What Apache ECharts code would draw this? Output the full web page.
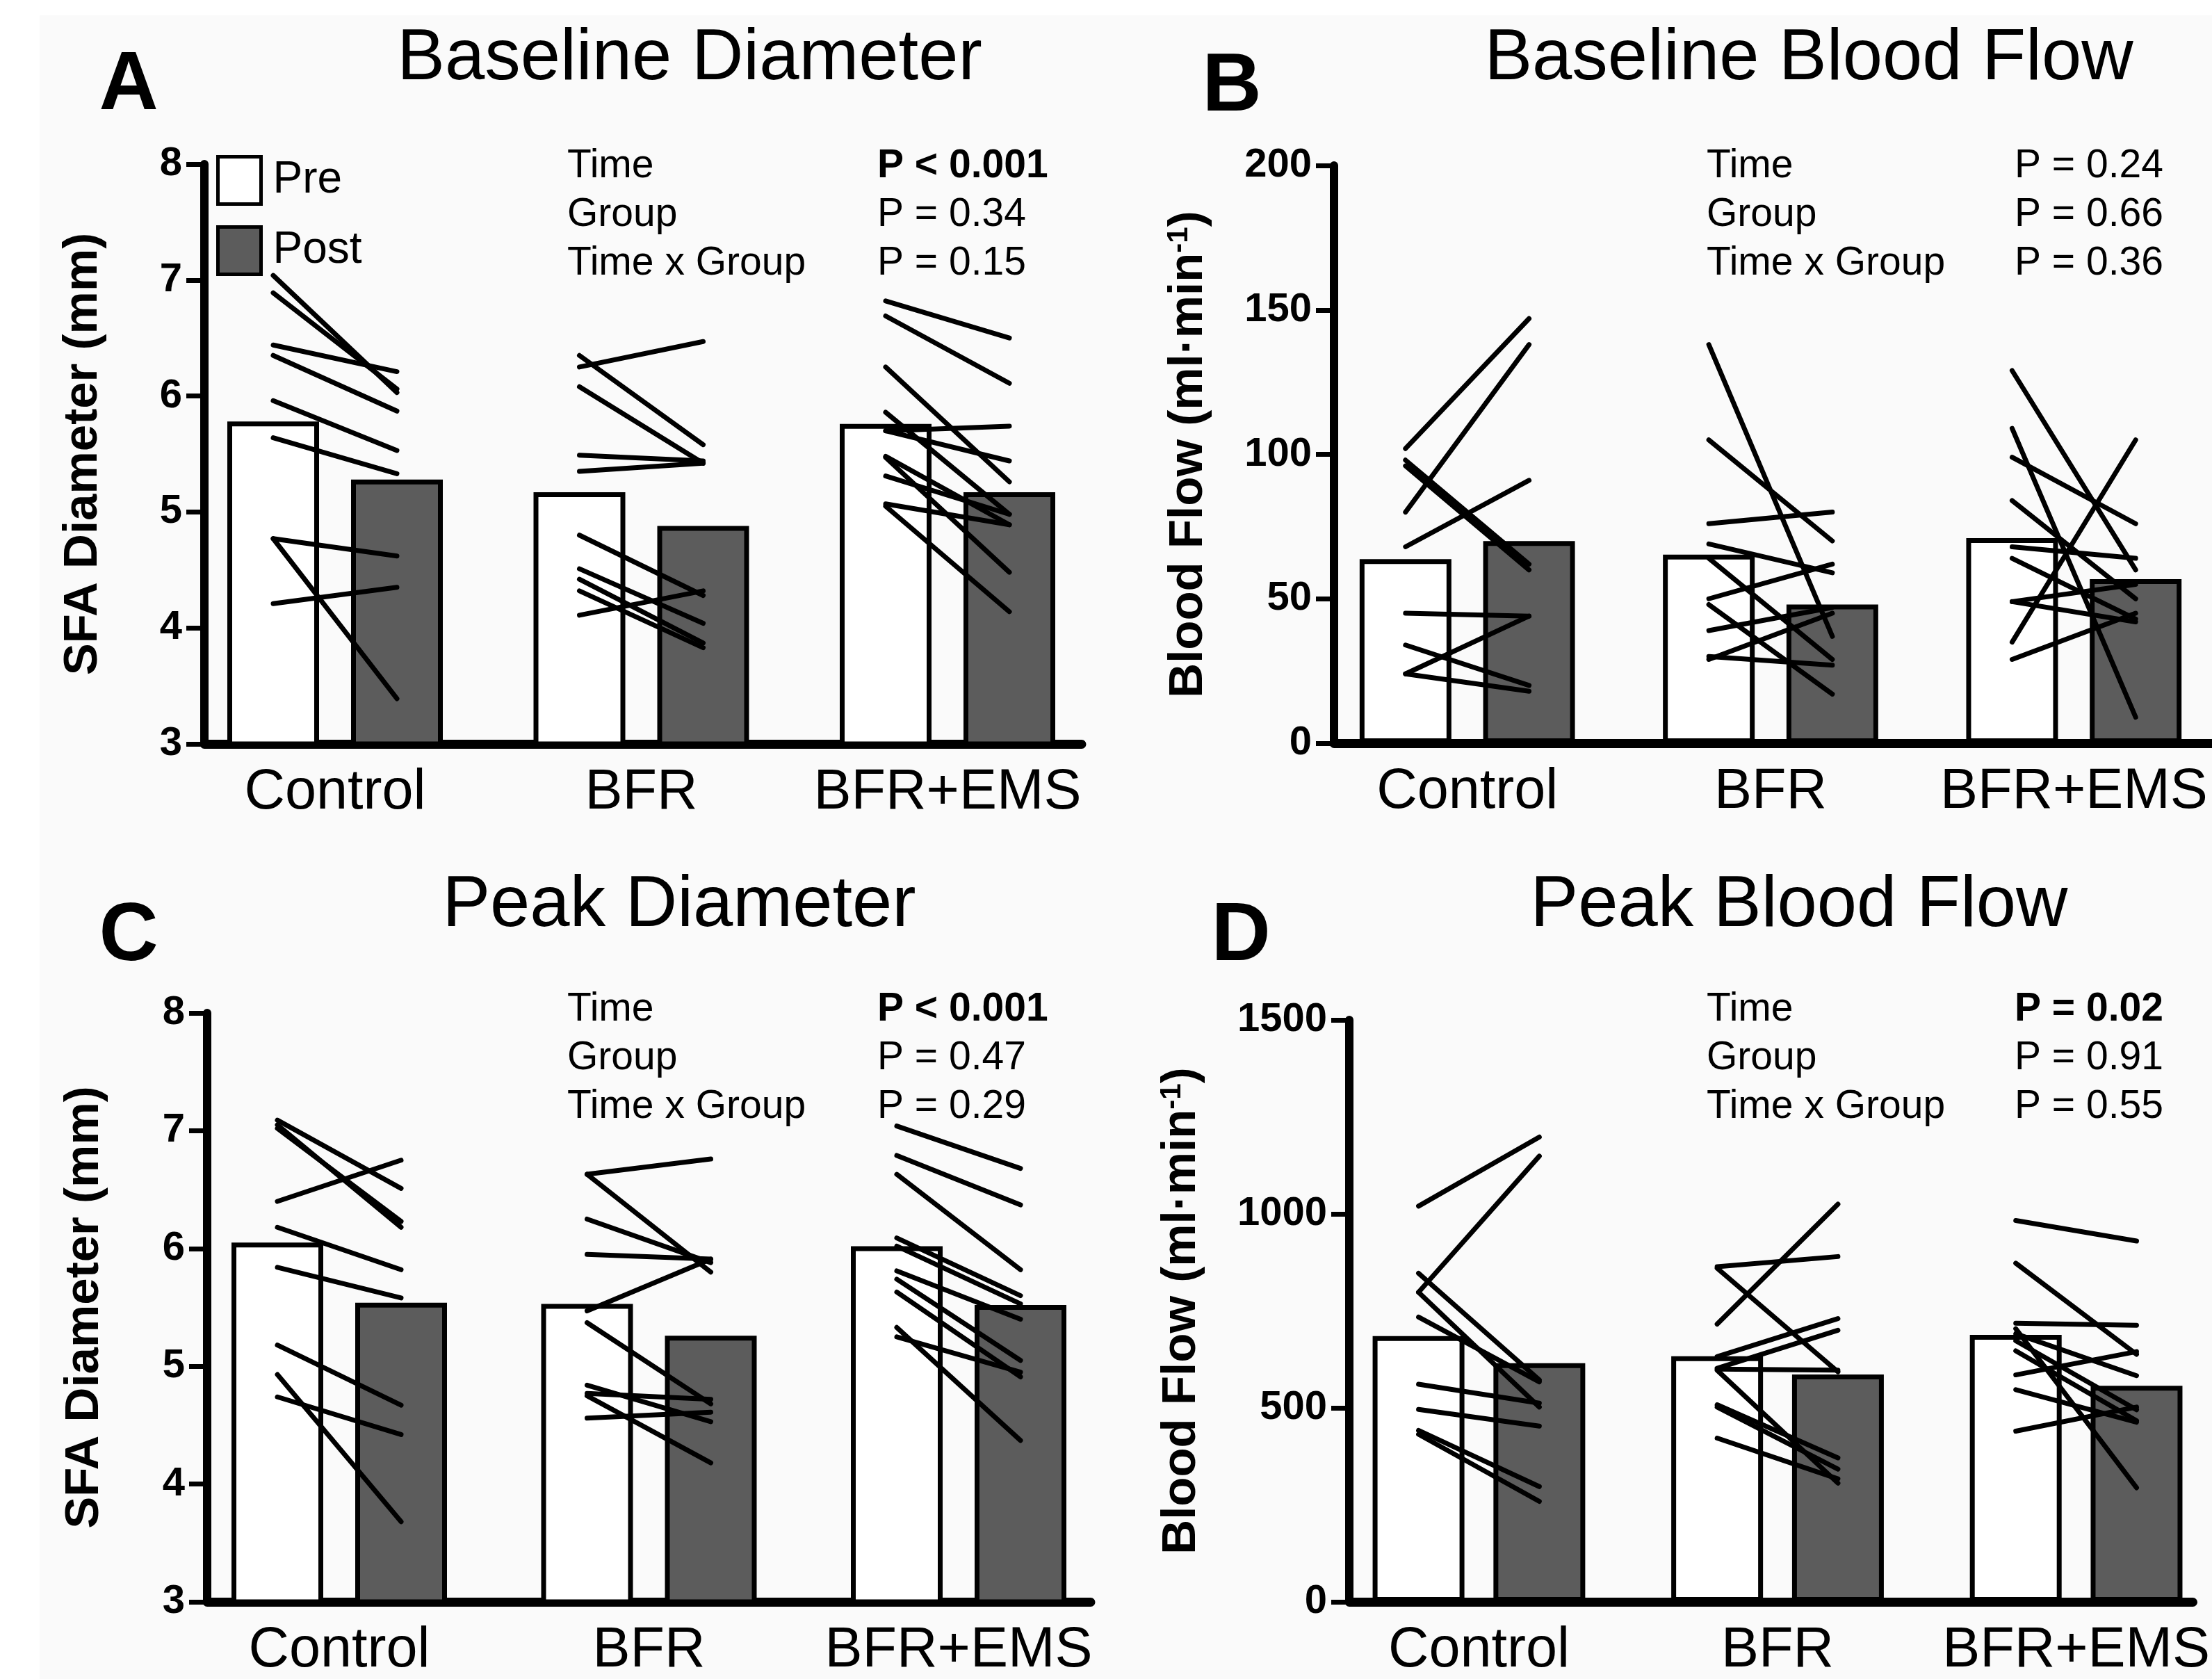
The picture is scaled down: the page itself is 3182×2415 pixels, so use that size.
<!DOCTYPE html>
<html><head><meta charset="utf-8">
<script src="https://cdn.jsdelivr.net/npm/echarts@6/dist/echarts.min.js"></script>
<style>html,body{margin:0;padding:0;background:#fff}#c{width:3182px;height:2415px}</style>
</head><body><div id="c"></div>
<script>
// ---------- DATA ----------
const categories = ['Control', 'BFR', 'BFR+EMS'];
const seriesNames = ['Pre', 'Post'];
const panelTitles = ['Baseline Diameter', 'Baseline Blood Flow', 'Peak Diameter', 'Peak Blood Flow'];
const panelLetters = ['A', 'B', 'C', 'D'];
const statLabels = ['Time', 'Group', 'Time x Group'];

const yTicksDiameter = [3, 4, 5, 6, 7, 8];
const yTicksBaseFlow = [0, 50, 100, 150, 200];
const yTicksPeakFlow = [0, 500, 1000, 1500];

// A: Baseline diameter (mm)
const aMeanPre = [5.78, 5.17, 5.76];
const aMeanPost = [5.28, 4.88, 5.17];
const aCtrlPre = [7.04, 6.89, 6.44, 6.35, 5.96, 5.64, 4.77, 4.77, 4.21];
const aCtrlPost = [6.03, 6.06, 6.21, 5.87, 5.53, 5.33, 4.62, 3.39, 4.35];
const aBfrPre = [6.35, 6.25, 6.08, 5.49, 5.35, 4.80, 4.51, 4.42, 4.32, 4.11];
const aBfrPost = [5.58, 6.47, 5.42, 5.44, 5.42, 4.28, 4.04, 3.87, 3.83, 4.32];
const aEmsPre = [6.82, 6.69, 6.25, 5.86, 5.70, 5.70, 5.48, 5.47, 5.31, 5.07, 5.05];
const aEmsPost = [6.50, 6.11, 5.26, 4.98, 5.74, 5.44, 4.89, 4.48, 4.98, 4.89, 4.14];
const aStats = ['P < 0.001', 'P = 0.34', 'P = 0.15'];
const aStatsBold = [true, false, false];

// B: Baseline blood flow (ml/min)
const bMeanPre = [63.7, 65.3, 71];
const bMeanPost = [70, 48, 56.8];
const bCtrlPre = [102, 80, 98, 96, 68, 45, 34, 24, 24];
const bCtrlPost = [147, 138, 62, 60, 91, 44, 20, 44, 18];
const bBfrPre = [138, 105, 76, 69, 64, 50, 48, 39, 30, 29];
const bBfrPost = [37, 70, 80, 59, 29, 62, 17, 47, 27, 45];
const bEmsPre = [129, 109, 99, 35, 84, 68, 64, 49, 49, 29];
const bEmsPost = [60, 9, 76, 105, 50, 64, 43, 55, 42, 45];
const bStats = ['P = 0.24', 'P = 0.66', 'P = 0.36'];
const bStatsBold = [false, false, false];

// C: Peak diameter (mm)
const cMeanPre = [6.05, 5.53, 6.02];
const cMeanPost = [5.54, 5.26, 5.52];
const cCtrlPre = [7.09, 7.05, 7.02, 6.40, 6.18, 5.84, 5.18, 4.93, 4.74];
const cCtrlPost = [6.51, 6.18, 6.23, 6.75, 5.82, 5.58, 4.67, 3.68, 4.42];
const cBfrPre = [6.63, 6.63, 6.25, 5.95, 5.47, 5.37, 4.84, 4.77, 4.75, 4.56];
const cBfrPost = [6.76, 5.80, 5.88, 5.91, 5.91, 4.68, 4.53, 4.72, 4.18, 4.61];
const cEmsPre = [7.04, 6.79, 6.63, 6.09, 6.02, 5.81, 5.74, 5.63, 5.33, 5.25];
const cEmsPost = [6.68, 6.37, 5.82, 5.60, 5.53, 5.40, 5.05, 4.91, 4.37, 4.95];
const cStats = ['P < 0.001', 'P = 0.47', 'P = 0.29'];
const cStatsBold = [true, false, false];

// D: Peak blood flow (ml/min)
const dMeanPre = [685, 633, 688];
const dMeanPost = [615, 586, 557];
const dCtrlPre = [1020, 798, 847, 798, 734, 561, 496, 442, 432];
const dCtrlPost = [1198, 1149, 572, 502, 567, 512, 453, 297, 259];
const dBfrPre = [716, 864, 860, 632, 602, 600, 508, 502, 597, 422];
const dBfrPost = [1025, 890, 593, 730, 700, 597, 371, 342, 306, 317];
const dEmsPre = [983, 873, 718, 704, 691, 673, 647, 585, 547, 440];
const dEmsPost = [930, 638, 713, 294, 583, 495, 467, 645, 463, 502];
const dStats = ['P = 0.02', 'P = 0.91', 'P = 0.55'];
const dStatsBold = [true, false, false];

// ---------- LAYOUT ----------
const FONT = '"Liberation Sans", Arial, Helvetica, sans-serif';
const BAR_W = 132, HALF_GAP_PX = 89;
const panels = [
  {grid:{left:294, top:236, width:1262, height:834}, c0:482, sp:440.5, ticks:yTicksDiameter,
   mean:[aMeanPre,aMeanPost], subj:[[aCtrlPre,aCtrlPost],[aBfrPre,aBfrPost],[aEmsPre,aEmsPost]],
   stats:aStats, bold:aStatsBold, yName:'SFA Diameter (mm)', nameX:120,
   titleX:992, titleY:85, letterX:185, letterY:124, statX:[816,1262], statY:239},
  {grid:{left:1919, top:238, width:1265, height:831}, c0:2111, sp:437, ticks:yTicksBaseFlow,
   mean:[bMeanPre,bMeanPost], subj:[[bCtrlPre,bCtrlPost],[bBfrPre,bBfrPost],[bEmsPre,bEmsPost]],
   stats:bStats, bold:bStatsBold, yName:'{b|Blood Flow (ml\u00B7min}{s|-1}{b|)}', nameX:1710,
   titleX:2602, titleY:85, letterX:1772, letterY:126, statX:[2455,2898], statY:239},
  {grid:{left:298, top:1457, width:1271, height:853}, c0:488, sp:445.5, ticks:yTicksDiameter,
   mean:[cMeanPre,cMeanPost], subj:[[cCtrlPre,cCtrlPost],[cBfrPre,cBfrPost],[cEmsPre,cEmsPost]],
   stats:cStats, bold:cStatsBold, yName:'SFA Diameter (mm)', nameX:122,
   titleX:977, titleY:1303, letterX:185, letterY:1348, statX:[816,1262], statY:1452},
  {grid:{left:1941, top:1467, width:1243, height:838}, c0:2132, sp:440, ticks:yTicksPeakFlow,
   mean:[dMeanPre,dMeanPost], subj:[[dCtrlPre,dCtrlPost],[dBfrPre,dBfrPost],[dEmsPre,dEmsPost]],
   stats:dStats, bold:dStatsBold, yName:'{b|Blood Flow (ml\u00B7min}{s|-1}{b|)}', nameX:1700,
   titleX:2588, titleY:1303, letterX:1785, letterY:1348, statX:[2455,2898], statY:1452}
];

const grids = [], xAxes = [], yAxes = [], series = [], titles = [], graphics = [];
graphics.push({type:'rect', z:-10, shape:{x:0,y:0,width:3182,height:22}, style:{fill:'#fff'}, silent:true});
graphics.push({type:'rect', z:-10, shape:{x:0,y:0,width:57,height:2415}, style:{fill:'#fff'}, silent:true});

panels.forEach((p, i) => {
  grids.push(Object.assign({containLabel:false}, p.grid));
  const xmin = -(p.c0 - p.grid.left) / p.sp;
  const xmax = xmin + p.grid.width / p.sp;
  const off = HALF_GAP_PX / p.sp;
  xAxes.push({
    type:'value', gridIndex:i, min:xmin, max:xmax,
    axisLine:{show:true, onZero:false, lineStyle:{color:'#000', width:13}},
    axisTick:{show:false}, splitLine:{show:false},
    axisLabel:{customValues:[0,1,2], formatter:(v)=>categories[Math.round(v)], fontSize:81,
      color:'#000', fontFamily:FONT, margin:30, showMinLabel:true, showMaxLabel:true}
  });
  const t = p.ticks;
  yAxes.push({
    type:'value', gridIndex:i, min:t[0], max:t[t.length-1], interval:t[1]-t[0],
    axisLine:{show:true, onZero:false, lineStyle:{color:'#000', width:12}},
    axisTick:{show:true, length:26, lineStyle:{color:'#000', width:7}},
    splitLine:{show:false},
    axisLabel:{fontSize:58, fontWeight:'bold', color:'#000', fontFamily:FONT, margin:32,
      formatter:(v)=>String(v)},
    name:p.yName, nameLocation:'middle', nameGap:p.grid.left - p.nameX,
    nameTextStyle:{fontSize:69, fontWeight:'bold', color:'#000', fontFamily:FONT, verticalAlign:'middle',
      rich:{b:{fontSize:69, fontWeight:'bold', color:'#000', fontFamily:FONT},
            s:{fontSize:42, fontWeight:'bold', color:'#000', fontFamily:FONT, verticalAlign:'top'}}}
  });
  // bars (group means)
  [0,1].forEach(k => {
    series.push({
      type:'bar', name:seriesNames[k], xAxisIndex:i, yAxisIndex:i,
      barWidth:BAR_W, barGap:'-100%', z:2, silent:true, clip:true,
      itemStyle:{color:k===0?'#ffffff':'#5c5c5c', borderColor:'#000', borderWidth:7},
      data:p.mean[k].map((v,g)=>[g + (k===0?-off:off), v])
    });
  });
  // individual subject lines
  p.subj.forEach((pair, g) => {
    pair[0].forEach((pre, s) => {
      series.push({
        type:'line', xAxisIndex:i, yAxisIndex:i, z:4, silent:true, symbol:'none',
        lineStyle:{color:'#000', width:7, cap:'round'},
        data:[[g-off, pre],[g+off, pair[1][s]]]
      });
    });
  });
  titles.push({text:panelTitles[i], left:p.titleX, top:p.titleY-51, textAlign:'center', padding:0,
    textStyle:{fontSize:103, fontWeight:'normal', color:'#000', fontFamily:FONT, lineHeight:103}});
  graphics.push({type:'text', x:p.letterX, y:p.letterY, style:{text:panelLetters[i], fontSize:118,
    fontWeight:'bold', fontFamily:FONT, fill:'#000', align:'center', verticalAlign:'middle',
    textAlign:'center', textVerticalAlign:'middle'}});
  statLabels.forEach((lab, r) => {
    const y = p.statY + r*70;
    graphics.push({type:'text', x:p.statX[0], y:y, style:{text:lab, fontSize:57, fontFamily:FONT,
      fill:'#000', align:'left', verticalAlign:'middle', textAlign:'left', textVerticalAlign:'middle'}});
    graphics.push({type:'text', x:p.statX[1], y:y, style:{text:p.stats[r], fontSize:57, fontFamily:FONT,
      fontWeight:p.bold[r]?'bold':'normal', fill:'#000', align:'left', verticalAlign:'middle',
      textAlign:'left', textVerticalAlign:'middle'}});
  });
});

const chart = echarts.init(document.getElementById('c'), null, {renderer:'canvas'});
chart.setOption({
  backgroundColor:'#fafafa',
  animation:false,
  title:titles,
  grid:grids, xAxis:xAxes, yAxis:yAxes, series:series,
  legend:{
    left:311, top:223, orient:'vertical', itemWidth:62, itemHeight:68, itemGap:28, padding:0,
    selectedMode:false,
    textStyle:{fontSize:64, color:'#000', fontFamily:FONT, padding:[0,0,0,12]},
    data:[
      {name:'Pre', icon:'rect', itemStyle:{color:'#ffffff', borderColor:'#000', borderWidth:5}},
      {name:'Post', icon:'rect', itemStyle:{color:'#5c5c5c', borderColor:'#000', borderWidth:5}}
    ]
  },
  graphic:graphics
});
</script></body></html>
